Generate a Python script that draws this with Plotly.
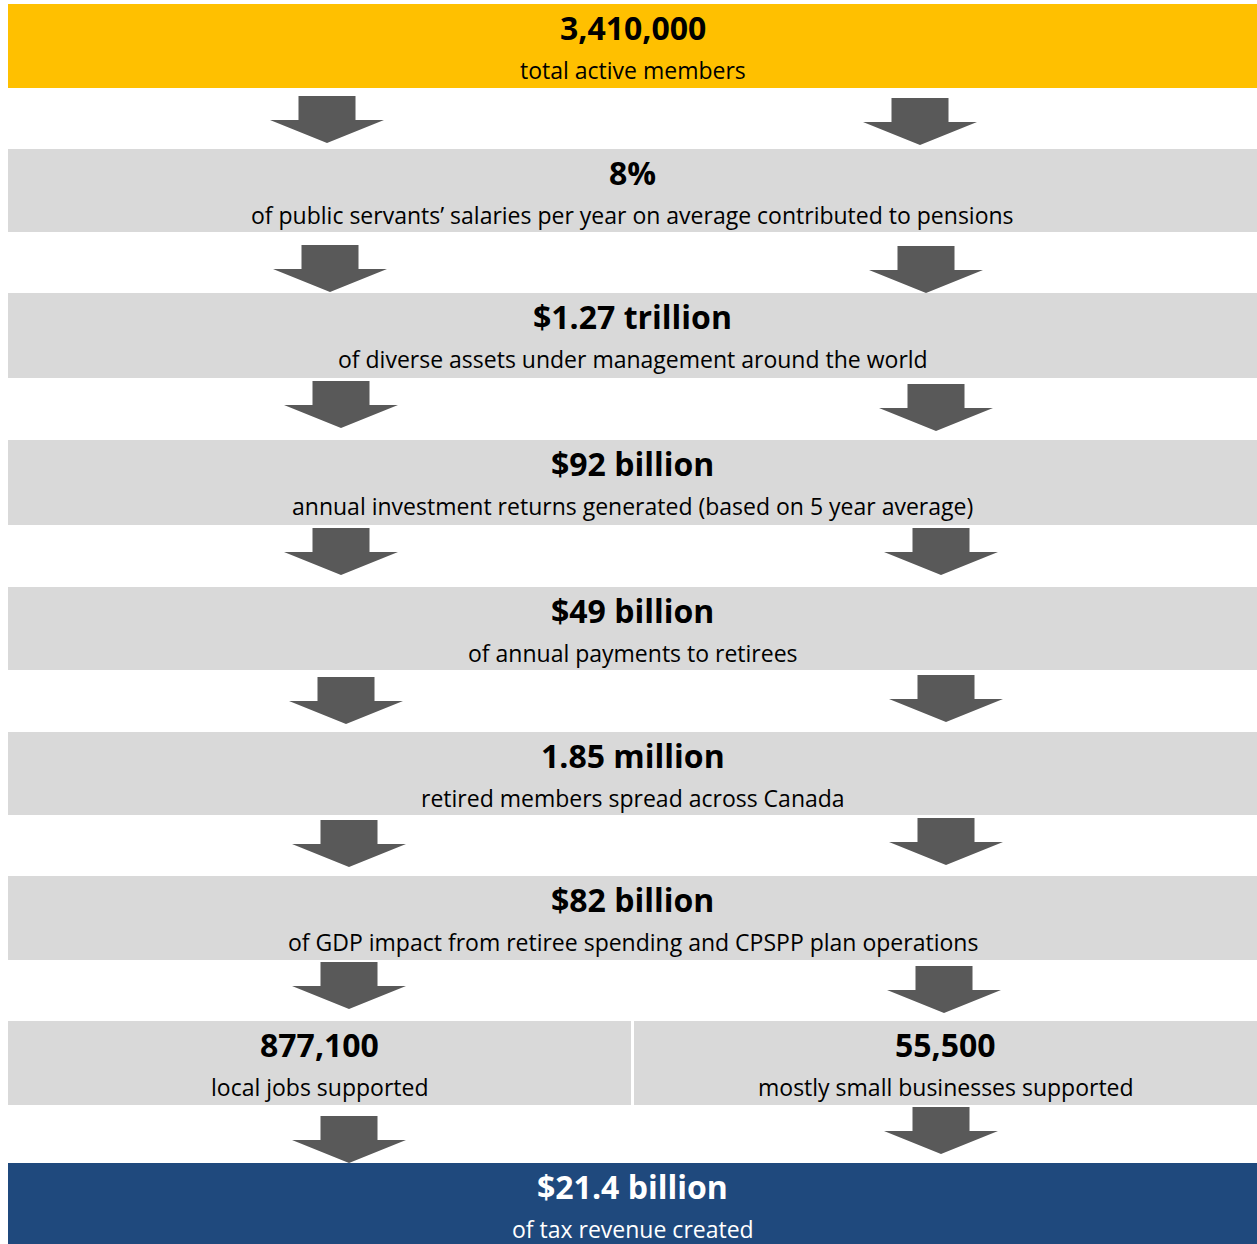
import plotly.graph_objects as go

# ---- data ----
headlines = ["3,410,000", "8%", "$1.27 trillion", "$92 billion", "$49 billion",
             "1.85 million", "$82 billion", "877,100", "55,500", "$21.4 billion"]
descriptions = [
    "total active members",
    "of public servants\u2019 salaries per year on average contributed to pensions",
    "of diverse assets under management around the world",
    "annual investment returns generated (based on 5 year average)",
    "of annual payments to retirees",
    "retired members spread across Canada",
    "of GDP impact from retiree spending and CPSPP plan operations",
    "local jobs supported",
    "mostly small businesses supported",
    "of tax revenue created",
]

# ---- layout (page pixels) ----
PAGE_W, PAGE_H = 1257, 1244
YELLOW, GREY, NAVY, ARROW = "#FFC000", "#D9D9D9", "#1F497D", "#595959"
# boxes: x0, x1, y0, y1, fill, text colour
boxes = [
    (8, 1257, 4, 88, YELLOW, "black"),
    (8, 1257, 149, 232, GREY, "black"),
    (8, 1257, 293, 378, GREY, "black"),
    (8, 1257, 440, 525, GREY, "black"),
    (8, 1257, 587, 670, GREY, "black"),
    (8, 1257, 732, 815, GREY, "black"),
    (8, 1257, 876, 960, GREY, "black"),
    (8, 631, 1021, 1105, GREY, "black"),
    (634, 1257, 1021, 1105, GREY, "black"),
    (8, 1257, 1163, 1250, NAVY, "white"),
]
# arrows: centre x, top y
arrows = [
    (327, 96), (920, 98),
    (330, 245), (926, 246),
    (341, 381), (936, 384),
    (341, 528), (941, 528),
    (346, 677), (946, 675),
    (349, 820), (946, 818),
    (349, 962), (944, 966),
    (349, 1116), (941, 1107),
]

fig = go.Figure()
shapes = []
annotations = []
FONT = "Open Sans"

for (x0, x1, y0, y1, fill, tc), head, desc in zip(boxes, headlines, descriptions):
    shapes.append(dict(type="rect", xref="x", yref="y", x0=x0, x1=x1, y0=y0, y1=y1,
                       fillcolor=fill, line=dict(width=0), layer="below"))
    cx = (x0 + x1) / 2
    annotations.append(dict(x=cx, y=y0 + 23, xref="x", yref="y", text="<b>" + head + "</b>",
                            showarrow=False, xanchor="center", yanchor="middle",
                            font=dict(family=FONT, size=32, color=tc)))
    annotations.append(dict(x=cx, y=y0 + 66, xref="x", yref="y", text=desc,
                            showarrow=False, xanchor="center", yanchor="middle",
                            font=dict(family=FONT, size=23, color=tc)))

SW, SH, HW, HH = 28.5, 24, 57, 23
for cx, ty in arrows:
    p = (f"M {cx-SW},{ty} L {cx+SW},{ty} L {cx+SW},{ty+SH} L {cx+HW},{ty+SH} "
         f"L {cx},{ty+SH+HH} L {cx-HW},{ty+SH} L {cx-SW},{ty+SH} Z")
    shapes.append(dict(type="path", xref="x", yref="y", path=p, fillcolor=ARROW,
                       line=dict(width=0)))

fig.add_trace(go.Scatter(x=[0, PAGE_W], y=[0, PAGE_H], mode="markers",
                         marker=dict(opacity=0), hoverinfo="skip", showlegend=False))
fig.update_layout(
    width=PAGE_W, height=PAGE_H, margin=dict(l=0, r=0, t=0, b=0),
    paper_bgcolor="white", plot_bgcolor="white",
    xaxis=dict(range=[0, PAGE_W], visible=False, fixedrange=True),
    yaxis=dict(range=[PAGE_H, 0], visible=False, fixedrange=True),
    shapes=shapes, annotations=annotations, showlegend=False,
)
fig.write_html(
    "out.html",
    config={"displayModeBar": False},
    post_script="document.body.style.margin='0';document.body.style.overflow='hidden';",
)
